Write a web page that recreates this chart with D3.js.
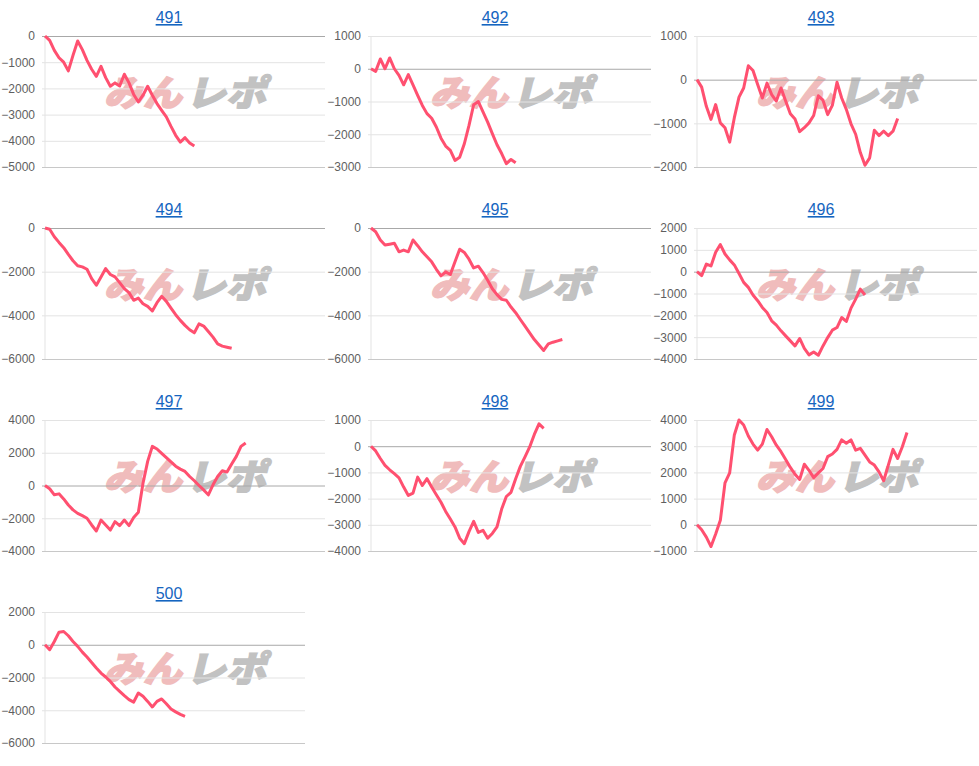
<!DOCTYPE html>
<meta charset="utf-8">

<!-- Load d3.js -->
<script src="https://d3js.org/d3.v7.min.js"></script>

<style>
  body { margin: 0; background: #fff; }
</style>

<!-- Create a div where the graph will take place -->
<div id="my_dataviz"></div>

<script>

// chart titles (machine numbers)
var titles = ["491", "492", "493", "494", "495", "496", "497", "498", "499", "500"];

// cumulative difference per game
var s491 = [0,-170,-550,-830,-1000,-1330,-740,-190,-520,-930,-1270,-1540,-1160,-1590,-1920,-1790,-1910,-1460,-1790,-2230,-2520,-2260,-1920,-2260,-2580,-2840,-3090,-3450,-3790,-4050,-3880,-4080,-4200];
var s492 = [0,-80,300,0,330,0,-200,-490,-180,-490,-810,-1120,-1370,-1510,-1780,-2120,-2360,-2490,-2800,-2700,-2290,-1730,-1100,-1000,-1320,-1630,-1980,-2320,-2590,-2900,-2770,-2870];
var s493 = [0,-170,-610,-910,-570,-990,-1100,-1430,-870,-400,-190,320,210,-110,-420,-80,-340,-490,-190,-490,-780,-900,-1190,-1100,-990,-820,-370,-470,-800,-590,-60,-420,-680,-1010,-1250,-1670,-1960,-1790,-1160,-1280,-1180,-1280,-1180,-890];
var s494 = [0,-60,-400,-660,-900,-1210,-1500,-1730,-1780,-1890,-2320,-2620,-2240,-1860,-2130,-2240,-2500,-2780,-2960,-3310,-3210,-3470,-3590,-3800,-3420,-3130,-3360,-3670,-3970,-4230,-4460,-4660,-4800,-4390,-4490,-4740,-5000,-5310,-5410,-5460,-5510];
var s495 = [0,-170,-550,-780,-740,-700,-1090,-1010,-1090,-550,-810,-1090,-1320,-1550,-1890,-2190,-2010,-2130,-1550,-970,-1120,-1430,-1830,-1750,-2040,-2390,-2780,-3050,-3270,-3310,-3620,-3880,-4190,-4490,-4800,-5110,-5360,-5610,-5310,-5230,-5170,-5110];
var s496 = [0,-180,350,260,890,1240,810,540,310,-80,-490,-720,-1070,-1330,-1640,-1870,-2250,-2450,-2710,-2940,-3170,-3400,-3060,-3510,-3810,-3680,-3830,-3400,-3020,-2680,-2560,-2100,-2280,-1670,-1260,-800,-1070];
var s497 = [0,-200,-570,-510,-820,-1190,-1490,-1700,-1840,-2000,-2410,-2780,-2110,-2410,-2720,-2210,-2450,-2110,-2450,-1960,-1640,140,1470,2390,2230,1960,1700,1440,1180,1000,860,550,290,0,-270,-570,40,550,900,820,1310,1780,2390,2600];
var s498 = [0,-180,-470,-730,-900,-1050,-1210,-1560,-1880,-1790,-1180,-1500,-1240,-1560,-1850,-2140,-2490,-2780,-3080,-3510,-3720,-3260,-2870,-3290,-3210,-3510,-3330,-3080,-2400,-1920,-1760,-1240,-770,-410,-30,450,850,680];
var s499 = [0,-190,-470,-830,-350,170,1600,1980,3430,4000,3810,3390,3080,2850,3080,3640,3360,3040,2790,2490,2190,1930,1730,2310,2080,1800,1980,2150,2600,2700,2880,3240,3110,3240,2850,2920,2660,2400,2280,2020,1680,2280,2880,2530,2980,3520];
var s500 = [0,-300,200,770,810,550,200,-100,-450,-750,-1080,-1420,-1730,-1970,-2240,-2580,-2850,-3110,-3350,-3500,-2950,-3150,-3460,-3800,-3460,-3310,-3600,-3920,-4100,-4250,-4370];

var series = [s491, s492, s493, s494, s495, s496, s497, s498, s499, s500];

// y axis tick labels of each small chart
var ticks491 = [-5000,-4000,-3000,-2000,-1000,0];
var ticks492 = [-3000,-2000,-1000,0,1000];
var ticks493 = [-2000,-1000,0,1000];
var ticks494 = [-6000,-4000,-2000,0];
var ticks495 = [-6000,-4000,-2000,0];
var ticks496 = [-4000,-3000,-2000,-1000,0,1000,2000];
var ticks497 = [-4000,-2000,0,2000,4000];
var ticks498 = [-4000,-3000,-2000,-1000,0,1000];
var ticks499 = [-1000,0,1000,2000,3000,4000];
var ticks500 = [-6000,-4000,-2000,0,2000];

var allTicks = [ticks491, ticks492, ticks493, ticks494, ticks495, ticks496, ticks497, ticks498, ticks499, ticks500];

// layout of the grid of small charts
var panelW = 326, panelH = 192;
var margin = {top: 36, left: 45};
var height = 131;

var svg = d3.select("#my_dataviz")
  .append("svg")
    .attr("width", 979)
    .attr("height", 766)
    .style("font-family", "Arial, 'Liberation Sans', sans-serif");

// same game spacing in every chart
var x = d3.scaleLinear()
  .domain([0, 60])
  .range([0, 280]);

titles.forEach(function(t, i) {
  var col = i % 3, row = Math.floor(i / 3);
  var width = (i == 9) ? 260 : 280;
  var ticks = allTicks[i];

  var panel = svg.append("g")
    .attr("transform", "translate(" + (col * panelW) + "," + (row * panelH) + ")");

  // title (link style)
  panel.append("text")
    .attr("x", 169)
    .attr("y", 23)
    .attr("text-anchor", "middle")
    .style("font-size", "16px")
    .style("fill", "#1565c0")
    .style("text-decoration", "underline")
    .text(t);

  // watermark logo
  var wm = panel.append("g")
    .attr("transform", "translate(0,106) skewX(-14)")
    .style("font-family", "'Noto Sans CJK JP', sans-serif")
    .style("font-weight", "900")
    .style("font-size", "36px");
  wm.append("text")
    .attr("x", 104)
    .attr("y", 0)
    .attr("textLength", 78)
    .attr("lengthAdjust", "spacingAndGlyphs")
    .style("fill", "#f0bcbc")
    .style("stroke", "#f0bcbc")
    .style("stroke-width", 1.5)
    .text("みん");
  wm.append("text")
    .attr("x", 186)
    .attr("y", 0)
    .attr("textLength", 80)
    .attr("lengthAdjust", "spacingAndGlyphs")
    .style("fill", "#c2c2c2")
    .style("stroke", "#c2c2c2")
    .style("stroke-width", 1.5)
    .text("レポ");

  var g = panel.append("g")
    .attr("transform", "translate(" + margin.left + "," + margin.top + ")");

  var y = d3.scaleLinear()
    .domain(d3.extent(ticks))
    .range([height, 0]);

  // left vertical line
  g.append("line")
    .attr("x1", 0).attr("x2", 0)
    .attr("y1", 0).attr("y2", height)
    .attr("stroke", "#e3e3e3");

  // y axis with gridlines
  var yAxis = g.append("g")
    .call(d3.axisLeft(y).tickValues(ticks).tickSize(-width).tickPadding(10).tickFormat(d3.format("d")));
  yAxis.select(".domain").remove();
  yAxis.selectAll(".tick line")
    .attr("x1", -3)
    .attr("stroke", function(d) {
      if (d == 0) return "#a8a8a8";
      if (d == ticks[0]) return "#c8c8c8";
      return "#e3e3e3";
    });
  yAxis.selectAll(".tick text")
    .style("font-size", "12px")
    .style("font-family", "Arial, 'Liberation Sans', sans-serif")
    .style("fill", "#5f5f5f");

  // the line
  g.append("path")
    .datum(series[i])
    .attr("d", d3.line()
      .x(function(d, k) { return x(k) })
      .y(function(d) { return y(d) })
    )
    .attr("stroke", "#ff5070")
    .style("stroke-width", 3)
    .style("stroke-linejoin", "round")
    .style("fill", "none");
});

</script>
